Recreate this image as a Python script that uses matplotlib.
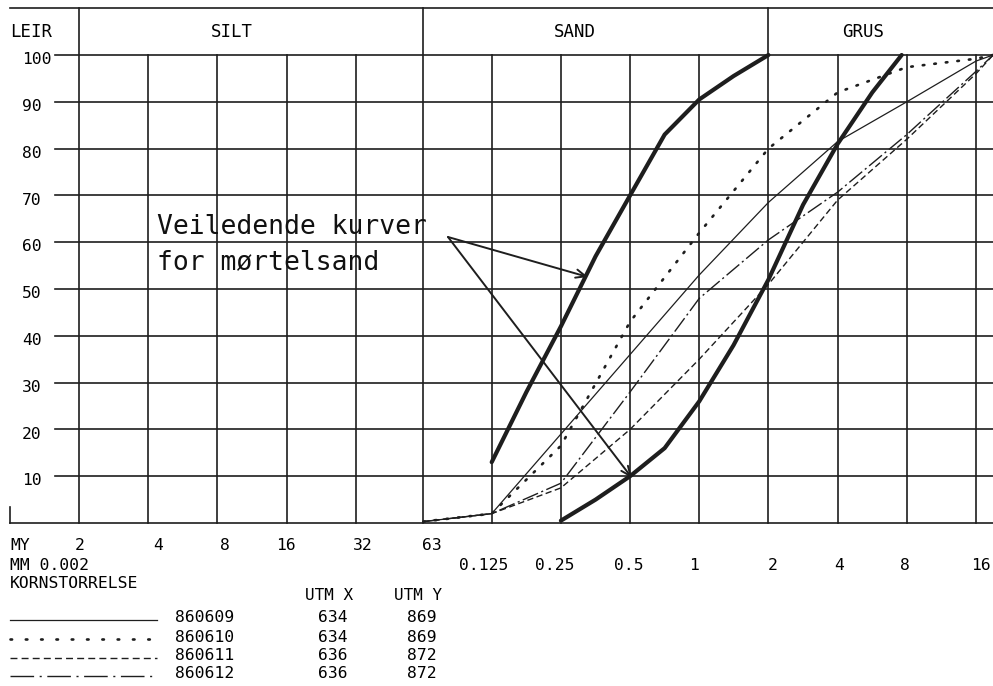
import math
import matplotlib
matplotlib.use('Agg')
import matplotlib.pyplot as plt

# grid of grain sizes (mm), one line per doubling
grid_mm = [0.002, 0.004, 0.008, 0.016, 0.032, 0.063, 0.125, 0.25, 0.5, 1, 2, 4, 8, 16]
class_bounds = [0.002, 0.063, 2]
class_names = ['SILT', 'SAND', 'GRUS']
percent_ticks = [10, 20, 30, 40, 50, 60, 70, 80, 90, 100]
my_ticks = [0.002, 0.004, 0.008, 0.016, 0.032, 0.063]
my_labels = ['2', '4', '8', '16', '32', '63']
mm_ticks = [0.125, 0.25, 0.5, 1, 2, 4, 8, 16]
mm_labels = ['0.125', '0.25', '0.5', '1', '2', '4', '8', '16']

# samples: sieve size (mm) vs cumulative percent passing
sieve_mm = [0.063, 0.125, 0.25, 0.5, 1, 2, 4, 8, 16, 19]
s860609 = [0.3, 2, 19, 36, 53, 68.5, 81.5, 90, 98.7, 100]
s860610 = [0.3, 2, 16.5, 43, 62, 80, 92, 97.4, 99.2, 100]
s860611 = [0.3, 2, 7.5, 20, 35, 51, 69, 82, 96, 100]
s860612 = [0.3, 2, 8.5, 28, 48, 60.5, 70.7, 83, 96.5, 100]

sample_ids = ['860609', '860610', '860611', '860612']
utm_x = ['634', '634', '636', '636']
utm_y = ['869', '869', '872', '872']

# guide curves for mortar sand
guide_fine_mm = [0.125, 0.177, 0.25, 0.354, 0.5, 0.707, 1, 1.41, 2]
guide_fine = [13, 28, 42, 57, 70, 83, 90.5, 95.5, 100]
guide_coarse_mm = [0.25, 0.354, 0.5, 0.707, 1, 1.41, 2, 2.83, 4, 5.66, 7.6]
guide_coarse = [0.5, 5, 10, 16, 26, 38, 52, 68, 81, 92, 100]

# page layout in pixels
W, H = 993, 686
X0, PX_OCT = 79, 69.18     # pixel of 0.002 mm, pixels per doubling
Y0, PX_PCT = 523, 4.68     # pixel of 0 %, pixels per percent


def px(x, y):
    # pixel position on the sheet -> (mm, percent)
    return 0.002 * 2 ** ((x - X0) / PX_OCT), (Y0 - y) / PX_PCT


def xpix(mm):
    return X0 + PX_OCT * math.log2(mm / 0.002)


INK = '#1e1e1e'
FONT = 'DejaVu Sans Mono'
FS = 11.8

fig = plt.figure(figsize=(W / 100, H / 100), dpi=100)
ax = fig.add_axes([0, 0, 1, 1])
ax.set_xscale('log', base=2)
ax.set_xlim(px(0, 0)[0], px(W, 0)[0])
ax.set_ylim(px(0, H)[1], px(0, 0)[1])
ax.axis('off')

xl, xr = ax.get_xlim()
top = px(0, 8)[1]

# frame and grid
ax.plot([px(10, 0)[0], xr], [top, top], color=INK, lw=1.2)
ax.plot([px(10, 0)[0], xr], [0, 0], color=INK, lw=1.2)
ax.plot([px(10, 0)[0]] * 2, [0, px(0, 507)[1]], color=INK, lw=1.2)
for p in percent_ticks:
    ax.plot([px(55, 0)[0], xr], [p, p], color=INK, lw=1.2)
    ax.text(px(22, 0)[0], p - 1, str(p), ha='left', va='center',
            family=FONT, fontsize=FS)
for g in grid_mm:
    ax.plot([g, g], [0, top if g in class_bounds else 100], color=INK, lw=1.2)

# header
head_y = px(0, 32)[1]
ax.text(px(10, 0)[0], head_y, 'LEIR', ha='left', va='center',
        family=FONT, fontsize=12.5)
for name, cx in zip(class_names, [232, 575, 863]):
    ax.text(px(cx, 0)[0], head_y, name, ha='center', va='center',
            family=FONT, fontsize=12.5)

# axis labels below
my_nudge = [1, 10, 8, -1, 7, 9]
ax.text(px(10, 0)[0], px(0, 546)[1], 'MY', ha='left', va='center',
        family=FONT, fontsize=FS)
for t, lab, dx in zip(my_ticks, my_labels, my_nudge):
    ax.text(px(xpix(t) + dx, 0)[0], px(0, 546)[1], lab, ha='center', va='center',
            family=FONT, fontsize=FS)
ax.text(px(10, 0)[0], px(0, 565)[1], 'MM 0.002', ha='left', va='center',
        family=FONT, fontsize=FS)
mm_nudge = [-8, -6, -1, -5, 4, 2, -2, 5]
for t, lab, dx in zip(mm_ticks, mm_labels, mm_nudge):
    ax.text(px(xpix(t) + dx, 0)[0], px(0, 565)[1], lab, ha='center', va='center',
            family=FONT, fontsize=FS)
ax.text(px(10, 0)[0], px(0, 584)[1], 'KORNSTORRELSE', ha='left', va='center',
        family=FONT, fontsize=FS)
ax.text(px(329, 0)[0], px(0, 596)[1], 'UTM X', ha='center', va='center',
        family=FONT, fontsize=11.5)
ax.text(px(418, 0)[0], px(0, 596)[1], 'UTM Y', ha='center', va='center',
        family=FONT, fontsize=11.5)

# sample curves
styles = [
    dict(ls='-', lw=0.9),
    dict(ls=(0, (0.6, 3.8)), lw=1.9, dash_capstyle='round'),
    dict(ls=(0, (4.5, 2.5)), lw=1.0),
    dict(ls=(0, (12, 2.5, 1.5, 2.5)), lw=1.0),
]
legend_styles = [
    dict(ls='-', lw=0.9),
    dict(ls=(0, (0.6, 5.2)), lw=1.9, dash_capstyle='round'),
    dict(ls=(0, (5, 3)), lw=1.0),
    dict(ls=(0, (17, 4, 1.5, 4)), lw=1.0),
]
series = [s860609, s860610, s860611, s860612]
for vals, st in zip(series, styles):
    ax.plot(sieve_mm, vals, color=INK, **st)

# guide curves
ax.plot(guide_fine_mm, guide_fine, color=INK, lw=3, solid_capstyle='round',
        solid_joinstyle='round')
ax.plot(guide_coarse_mm, guide_coarse, color=INK, lw=3, solid_capstyle='round',
        solid_joinstyle='round')

# legend table
rows_y = [618, 637, 656, 674]
for sid, ux, uy, st, ry in zip(sample_ids, utm_x, utm_y, legend_styles, rows_y):
    x1, yy = px(10, ry + 2)
    x2 = px(157, 0)[0]
    ax.plot([x1, x2], [yy, yy], color=INK, **st)
    yt = px(0, ry)[1]
    ax.text(px(175, 0)[0], yt, sid, ha='left', va='center', family=FONT, fontsize=FS)
    ax.text(px(333, 0)[0], yt, ux, ha='center', va='center', family=FONT, fontsize=FS)
    ax.text(px(422, 0)[0], yt, uy, ha='center', va='center', family=FONT, fontsize=FS)

# annotation with arrows
ax.text(*px(157, 234), 'Veiledende kurver', ha='left', va='baseline',
        family=FONT, fontsize=19, color='#111111')
ax.text(*px(157, 269), 'for mørtelsand', ha='left', va='baseline',
        family=FONT, fontsize=19, color='#111111')
tail = px(448, 237)
for head in [px(588, 277), px(632, 478)]:
    ax.annotate('', xy=head, xytext=tail,
                arrowprops=dict(arrowstyle='->,head_length=0.7,head_width=0.3',
                                color=INK, lw=1.4, shrinkA=0, shrinkB=0))

fig.savefig('out.png', dpi=100, facecolor='white')
